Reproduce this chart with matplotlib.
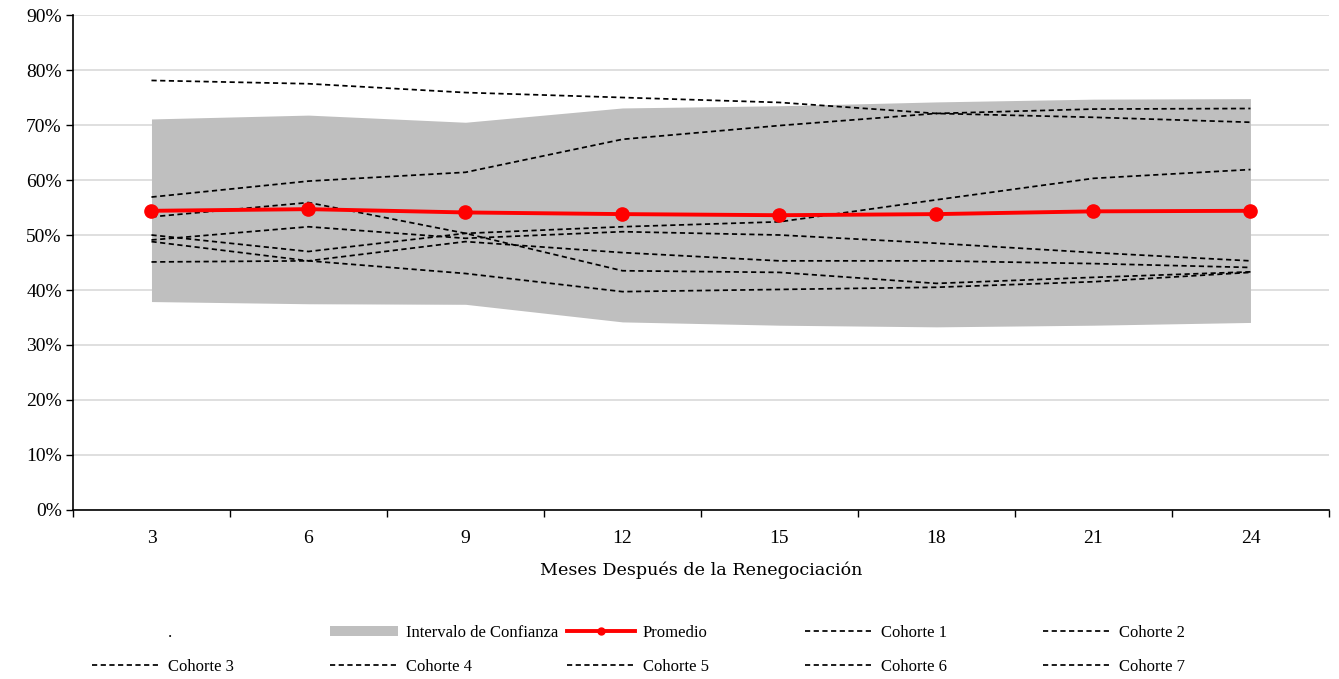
import matplotlib.pyplot as plt
from matplotlib.lines import Line2D
from matplotlib.patches import Patch
from matplotlib.ticker import FixedLocator, NullFormatter, FixedFormatter
import numpy as np

meses = [3, 6, 9, 12, 15, 18, 21, 24]

# intervalo de confianza (%)
ic_sup = [71.1, 71.8, 70.5, 73.1, 73.5, 74.2, 74.7, 74.8]
ic_inf = [37.9, 37.5, 37.4, 34.2, 33.6, 33.3, 33.6, 34.1]

promedio = [54.4, 54.7, 54.1, 53.8, 53.6, 53.8, 54.3, 54.4]

cohorte_1 = [78.1, 77.5, 75.9, 75.0, 74.1, 72.1, 71.4, 70.5]
cohorte_2 = [56.9, 59.8, 61.4, 67.4, 69.9, 72.1, 72.9, 73.0]
cohorte_3 = [53.3, 55.9, 50.3, 43.5, 43.2, 41.2, 42.3, 43.3]
cohorte_4 = [49.1, 51.5, 49.4, 50.6, 50.0, 48.5, 46.8, 45.3]
cohorte_5 = [50.0, 47.0, 50.3, 51.5, 52.4, 56.4, 60.3, 61.9]
cohorte_6 = [48.8, 45.3, 48.8, 46.8, 45.3, 45.3, 44.8, 44.1]
cohorte_7 = [45.1, 45.3, 43.0, 39.7, 40.1, 40.5, 41.5, 43.2]

cohortes = [cohorte_1, cohorte_2, cohorte_3, cohorte_4, cohorte_5, cohorte_6, cohorte_7]
nombres = [f"Cohorte {i}" for i in range(1, 8)]

plt.rcParams["font.family"] = "Liberation Serif"

fig = plt.figure(figsize=(13.39, 6.79), dpi=100)
ax = fig.add_axes([0.0545, 0.2489, 0.938, 0.729])

x = np.arange(len(meses))
frac = lambda v: np.array(v) / 100.0

ax.fill_between(x, frac(ic_inf), frac(ic_sup), color="#bfbfbf", lw=0, zorder=1)

dash = (0, (3, 2))
for serie in cohortes:
    ax.plot(x, frac(serie), color="black", lw=1.25, linestyle=dash, zorder=2)

ax.plot(x, frac(promedio), color="#ff0000", lw=2.8, marker="o", markersize=9.5, zorder=3)

# ejes
ax.set_xlim(-0.5, len(meses) - 0.5)
ax.set_ylim(0, 0.9)
ax.yaxis.set_major_locator(FixedLocator(np.arange(0, 0.91, 0.1)))
ax.yaxis.set_major_formatter(FixedFormatter([f"{v}%" for v in range(0, 91, 10)]))
ax.xaxis.set_major_locator(FixedLocator(np.arange(-0.5, len(meses), 1.0)))
ax.xaxis.set_major_formatter(NullFormatter())
ax.xaxis.set_minor_locator(FixedLocator(x))
ax.xaxis.set_minor_formatter(FixedFormatter([str(m) for m in meses]))
ax.tick_params(axis="x", which="major", length=5, width=1, color="black")
ax.tick_params(axis="x", which="minor", length=0, pad=14.5, labelsize=14)
ax.tick_params(axis="y", length=5, width=1, pad=3, labelsize=14)

ax.grid(axis="y", color="#d9d9d9", lw=1.2)
ax.set_axisbelow(True)
for side in ["top", "right"]:
    ax.spines[side].set_visible(False)
for side in ["left", "bottom"]:
    ax.spines[side].set_linewidth(1.2)

ax.set_xlabel("Meses Después de la Renegociación", fontsize=12.6,
              family="DejaVu Serif", labelpad=10.5)

# leyenda en 5 columnas de ancho fijo
h_punto = Line2D([], [], linestyle="none")
h_ic = Patch(facecolor="#bfbfbf", edgecolor="none")
h_prom = Line2D([], [], color="#ff0000", lw=2.8, marker="o", markersize=5)
h_coh = Line2D([], [], color="black", lw=1.25, linestyle=dash)

columnas = [
    ([h_punto, h_coh], [".", nombres[2]]),
    ([h_ic, h_coh], ["Intervalo de Confianza", nombres[3]]),
    ([h_prom, h_coh], ["Promedio", nombres[4]]),
    ([h_coh, h_coh], [nombres[0], nombres[5]]),
    ([h_coh, h_coh], [nombres[1], nombres[6]]),
]
x_col = [0.0687, 0.2465, 0.4234, 0.601, 0.779]
for xc, (hs, ls) in zip(x_col, columnas):
    fig.legend(
        hs, ls, loc="upper left", bbox_to_anchor=(xc, 0.0795),
        frameon=False, fontsize=12, handlelength=4.1, handleheight=0.6,
        handletextpad=0.45, borderpad=0, borderaxespad=0, labelspacing=1.05,
    )

fig.savefig("out.png", dpi=100)
